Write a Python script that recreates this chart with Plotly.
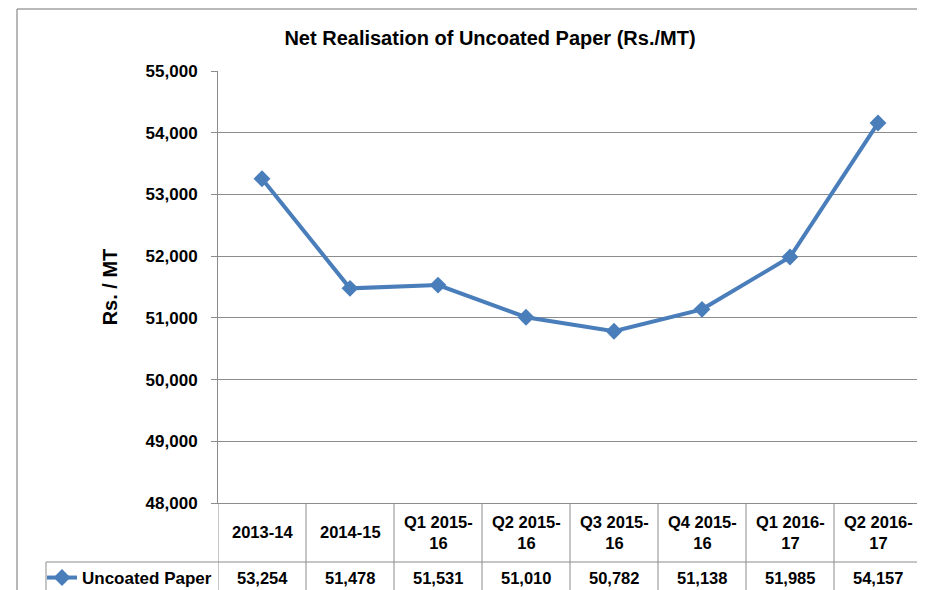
import plotly.graph_objects as go

# data
categories = ["2013-14", "2014-15", "Q1 2015-16", "Q2 2015-16",
              "Q3 2015-16", "Q4 2015-16", "Q1 2016-17", "Q2 2016-17"]
uncoated_paper = [53254, 51478, 51531, 51010, 50782, 51138, 51985, 54157]
series_name = "Uncoated Paper"
y_ticks = [48000, 49000, 50000, 51000, 52000, 53000, 54000, 55000]

BLUE = "#4A7EBB"
GRID = "#8c8c8c"
FONT = "Liberation Sans, Arial, sans-serif"

# the page body keeps its default 8px margin, so the figure starts at (8, 8)
OFF = 8
W, H = 925 - OFF, 590 - OFF
L, R, T, B = 218 - OFF, 3, 71 - OFF, 590 - 503
plot_h = H - T - B
plot_w = W - L - R


def py(px_y):
    # window pixel row -> paper y
    return (H - B - (px_y - OFF)) / plot_h


def px(px_x):
    # window pixel column -> paper x
    return (px_x - OFF - L) / plot_w


def wrap(label):
    # Excel breaks the long labels after the dash
    if len(label) > 7 and "-" in label:
        head, tail = label.rsplit("-", 1)
        return head + "-<br>" + tail
    return label


fig = go.Figure()
fig.add_trace(go.Scatter(
    x=list(range(len(categories))), y=uncoated_paper,
    name=series_name, mode="lines+markers",
    line=dict(color=BLUE, width=4),
    marker=dict(symbol="diamond", size=13, color=BLUE),
    cliponaxis=False,
))

shapes = []
# table grid under the plot
for i in range(len(categories) + 1):
    shapes.append(dict(type="line", xref="x", yref="paper",
                       x0=i - 0.5, x1=i - 0.5, y0=0, y1=py(600),
                       line=dict(color=GRID, width=1)))
shapes.append(dict(type="line", xref="paper", yref="paper",
                   x0=px(46), x1=1, y0=py(562), y1=py(562),
                   line=dict(color=GRID, width=1)))
shapes.append(dict(type="line", xref="paper", yref="paper",
                   x0=px(46), x1=px(46), y0=py(562), y1=py(600),
                   line=dict(color=GRID, width=1)))
# chart frame
shapes.append(dict(type="line", xref="paper", yref="paper",
                   x0=px(17), x1=px(930), y0=py(9), y1=py(9),
                   line=dict(color="#a0a0a0", width=1.5)))
shapes.append(dict(type="line", xref="paper", yref="paper",
                   x0=px(17), x1=px(17), y0=py(9), y1=py(600),
                   line=dict(color="#a0a0a0", width=1.5)))

annotations = []
for i, (cat, val) in enumerate(zip(categories, uncoated_paper)):
    annotations.append(dict(x=i, y=py(532), xref="x", yref="paper",
                            text=wrap(cat), showarrow=False,
                            yanchor="middle", align="center",
                            font=dict(size=16.5, weight="bold", color="black")))
    annotations.append(dict(x=i, y=py(578), xref="x", yref="paper",
                            text=f"{val:,}", showarrow=False,
                            yanchor="middle",
                            font=dict(size=16.5, weight="bold", color="black")))

fig.update_layout(
    width=W, height=H,
    margin=dict(l=L, r=R, t=T, b=B, autoexpand=False),
    paper_bgcolor="white", plot_bgcolor="white",
    font=dict(family=FONT, color="black"),
    title=dict(text="Net Realisation of Uncoated Paper (Rs./MT)",
               x=px(490), xref="paper", xanchor="center",
               y=1 - (38 - OFF) / H, yanchor="middle",
               font=dict(size=20, weight="bold", color="black")),
    showlegend=True,
    legend=dict(x=px(42), y=py(578), xref="paper", yref="paper",
                xanchor="left", yanchor="middle",
                bgcolor="rgba(0,0,0,0)",
                font=dict(size=17, weight="bold", color="black")),
    shapes=shapes,
    annotations=annotations,
)
fig.update_xaxes(range=[-0.5, len(categories) - 0.5], showgrid=False,
                 showticklabels=False, zeroline=False, automargin=False,
                 showline=True, linecolor=GRID, linewidth=1, ticks="")
fig.update_yaxes(range=[48000, 55000], tickvals=y_ticks, automargin=False,
                 tickformat=",d", showgrid=True, gridcolor=GRID, gridwidth=1,
                 zeroline=False, showline=True, linecolor=GRID, linewidth=1,
                 ticks="outside", ticklen=6, tickcolor=GRID,
                 ticklabelstandoff=10,
                 tickfont=dict(size=17, weight="bold", color="black"),
                 title=dict(text="Rs. / MT", standoff=22,
                            font=dict(size=20, weight="bold", color="black")))

fig.write_html("out.html")
